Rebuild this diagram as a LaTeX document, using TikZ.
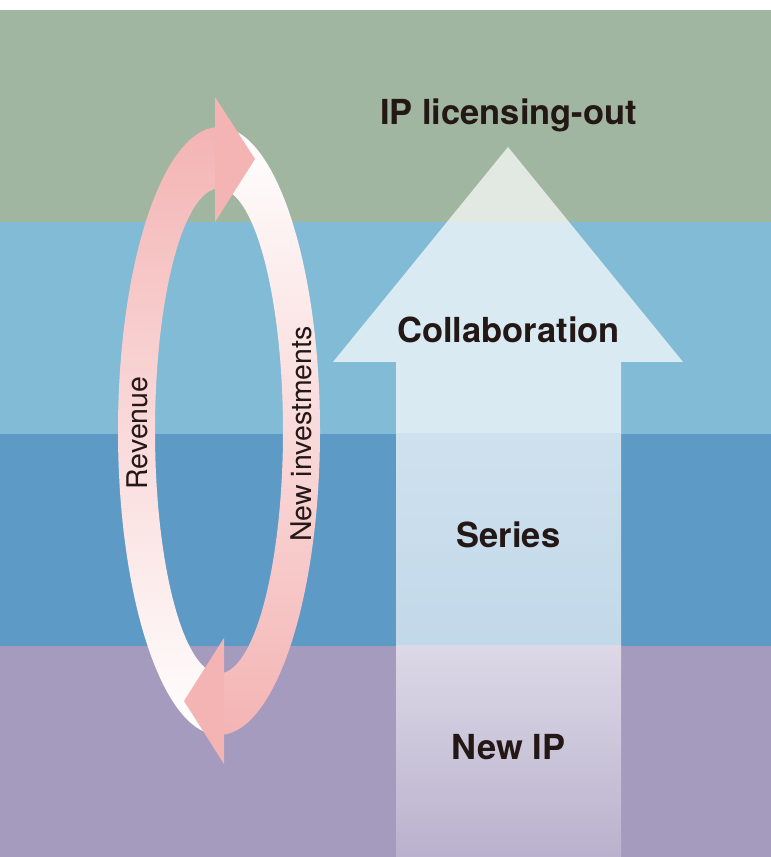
\documentclass[tikz,border=0pt]{standalone}
\usepackage{fontspec}
\setmainfont{TeX Gyre Heros}
\definecolor{bgGreen}{HTML}{A1B6A0}
\definecolor{bgLight}{HTML}{82BBD6}
\definecolor{bgDark}{HTML}{5E9AC6}
\definecolor{bgPurple}{HTML}{A59BBF}
\definecolor{loopPink}{HTML}{F4B4B4}
\definecolor{txt}{HTML}{231815}
\begin{document}
\begin{tikzpicture}[x=1pt,y=1pt,
  tierlabel/.style={font=\fontsize{34.5}{40}\selectfont\bfseries, text=txt, inner sep=0pt, anchor=base},
  looplabel/.style={font=\fontsize{28.5}{34}\selectfont, text=txt, inner sep=0pt, anchor=base, rotate=90},
  loophead/.style={fill=loopPink, draw=none}]
\useasboundingbox (0,0) rectangle (771,857);
% bands
\fill[white] (0,847) rectangle (771,857);
\fill[bgGreen] (0,635) rectangle (771,847);
\fill[bgLight] (0,423) rectangle (771,635);
\fill[bgDark] (0,211) rectangle (771,423);
\fill[bgPurple] (0,0) rectangle (771,211);
% big arrow
\fill[white, fill opacity=0.7] (396,423) -- (396,495) -- (333,495) -- (508,710) -- (683,495) -- (621,495) -- (621,423) -- cycle;
\shade[top color=white!70!bgDark, bottom color=white!62!bgDark] (396,211) rectangle (621,423);
\shade[top color=white!61!bgPurple, bottom color=white!23!bgPurple] (396,0) rectangle (621,211);
% loop
\begin{scope}[shift={(219,426)}]
\shade[top color=white, bottom color=loopPink] (83.7:101 and 304) arc[start angle=83.7, end angle=-87.2, x radius=101, y radius=304] -- (-85.5:64 and 242.5) arc[start angle=-85.5, end angle=80.1, x radius=64, y radius=242.5] -- cycle;
\shade[top color=loopPink, bottom color=white] (265.1:101 and 304) arc[start angle=265.1, end angle=92.3, x radius=101, y radius=304] -- (93.6:64 and 242.5) arc[start angle=93.6, end angle=261.9, x radius=64, y radius=242.5] -- cycle;
\end{scope}
\fill[loophead] (215,760) -- (255,698) -- (215,635) -- cycle;
\fill[loophead] (224,219) -- (184,156) -- (224,93) -- cycle;
% labels
\node[tierlabel] (lic) at (508.5,732) {IP licensing-out};
\node[tierlabel] (col) at (508.5,514) {Collaboration};
\node[tierlabel] (ser) at (508.5,309) {Series};
\node[tierlabel] (nip) at (508.5,97) {New IP};
\node[looplabel] (rev) at (147,424) {Revenue};
\node[looplabel] (inv) at (311,423) {New investments};
\end{tikzpicture}
\end{document}
